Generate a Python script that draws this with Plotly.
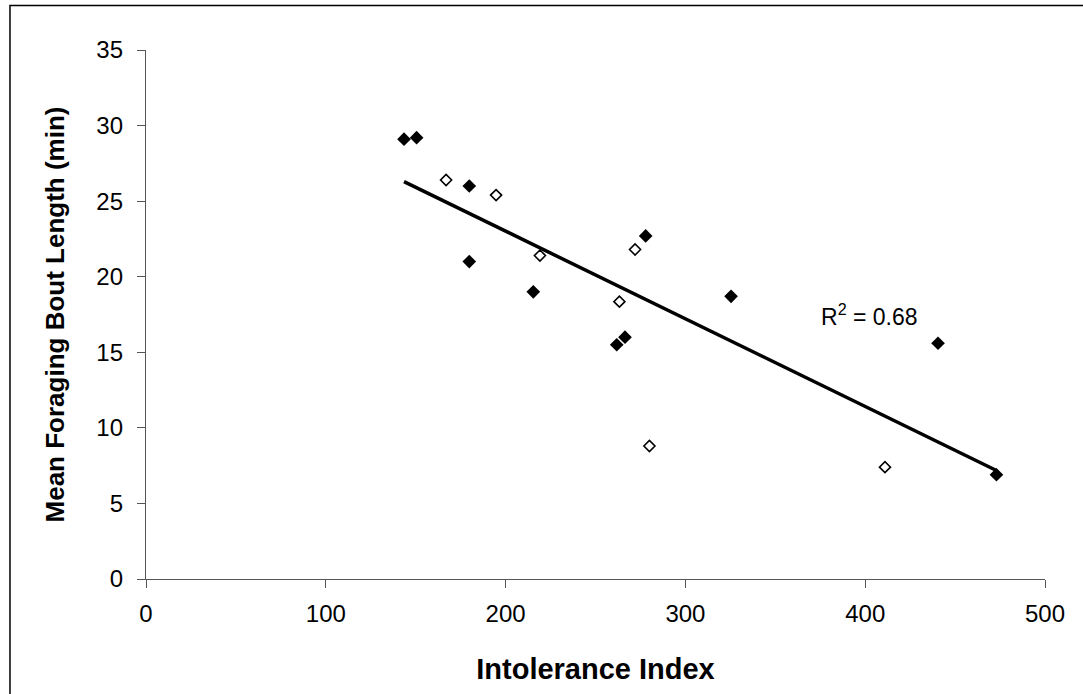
import numpy as np
import plotly.graph_objects as go

# Intolerance index vs. mean foraging bout length (min)
filled_x = [143.5, 150.5, 179.8, 179.8, 215.4, 261.8, 266.4, 277.9, 325.4, 440.5, 473.0]
filled_y = [29.1, 29.2, 26.0, 21.0, 19.0, 15.5, 16.0, 22.7, 18.7, 15.6, 6.9]
open_x = [166.9, 194.7, 219.1, 263.3, 272.0, 280.0, 411.0]
open_y = [26.4, 25.4, 21.4, 18.35, 21.8, 8.8, 7.4]

x_ticks = [0, 100, 200, 300, 400, 500]
y_ticks = [0, 5, 10, 15, 20, 25, 30, 35]
r2_label = "R<sup>2</sup> = 0.68"

FONT = "Arial, Liberation Sans, sans-serif"

# Linear least-squares fit over all points
all_x = np.array(filled_x + open_x)
all_y = np.array(filled_y + open_y)
slope, intercept = np.polyfit(all_x, all_y, 1)
fit_x = np.array([all_x.min(), all_x.max()])
fit_y = slope * fit_x + intercept

fig = go.Figure()

fig.add_trace(go.Scatter(
    x=fit_x, y=fit_y, mode="lines",
    line=dict(color="black", width=3.5),
    hoverinfo="skip", showlegend=False,
))
fig.add_trace(go.Scatter(
    x=filled_x, y=filled_y, mode="markers",
    marker=dict(symbol="diamond", size=10.5, color="black",
                line=dict(color="black", width=0)),
    showlegend=False,
))
fig.add_trace(go.Scatter(
    x=open_x, y=open_y, mode="markers",
    marker=dict(symbol="diamond", size=8.5, color="white",
                line=dict(color="black", width=1.6)),
    showlegend=False,
))

fig.add_annotation(
    x=402.5, y=17.45, xref="x", yref="y", text=r2_label, showarrow=False,
    font=dict(family=FONT, size=23, color="black"),
)

# outer chart frame
fig.add_shape(
    type="rect", xref="paper", yref="paper",
    x0=-0.1513, x1=1.06, y0=-0.25, y1=1.0841,
    line=dict(color="black", width=1.5), fillcolor="rgba(0,0,0,0)",
    layer="below",
)

axis_common = dict(
    showgrid=False, zeroline=False, showline=True,
    linecolor="#555555", linewidth=1.3,
    ticks="outside", ticklen=8, tickcolor="#555555", tickwidth=1.3,
    tickfont=dict(family=FONT, size=24, color="black"),
)

fig.update_xaxes(
    range=[0, 500], tickvals=x_ticks, ticktext=[str(v) for v in x_ticks],
    ticklabelstandoff=5,
    title=dict(text="<b>Intolerance Index</b>", standoff=32,
               font=dict(family=FONT, size=29, color="black")),
    **axis_common,
)
fig.update_yaxes(
    range=[0, 35], tickvals=y_ticks, ticktext=[str(v) for v in y_ticks],
    ticklabelstandoff=9,
    title=dict(text="<b>Mean Foraging Bout Length (min)</b>", standoff=24,
               font=dict(family=FONT, size=26, color="black")),
    **axis_common,
)

fig.update_layout(
    width=1083, height=694,
    margin=dict(l=146, r=38, t=50, b=115),
    paper_bgcolor="white", plot_bgcolor="white",
    font=dict(family=FONT),
)

fig.write_html("out.html")
